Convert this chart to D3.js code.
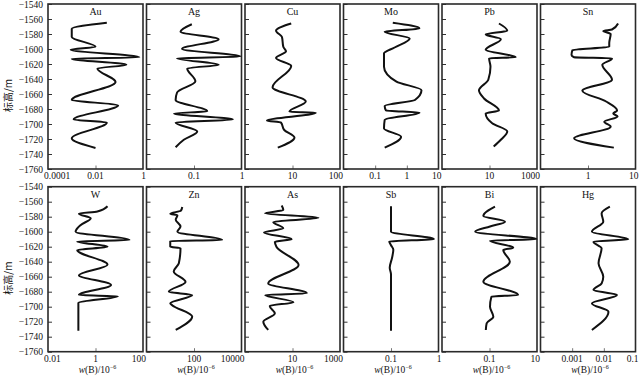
<!DOCTYPE html>
<html><head><meta charset="utf-8">
<script src="https://cdn.jsdelivr.net/npm/d3@7"></script>
<style>body{margin:0;background:#fff} svg{display:block}</style>
</head><body><svg id="c" width="643" height="382"></svg>
<script>
const elements = ["Au","Ag","Cu","Mo","Pb","Sn","W","Zn","As","Sb","Bi","Hg"];

// [elevation m, w(B)/10^-6]
const auData = [[-1565,0.03],[-1573,0.001],[-1584,0.001],[-1597,0.01],[-1601,0.0009],[-1611,0.7],[-1613,0.001],[-1621,0.2],[-1626,0.012],[-1644,0.07],[-1668,0.001],[-1675,0.09],[-1694,0.0012],[-1698,0.03],[-1719,0.001],[-1732,0.01]];
const agData = [[-1567,0.09],[-1577,0.052],[-1587,0.33],[-1600,0.056],[-1610,0.95],[-1612.5,0.044],[-1621,0.33],[-1626,0.072],[-1643,0.107],[-1658,0.044],[-1668,0.041],[-1683,0.19],[-1686,0.038],[-1694,0.66],[-1698,0.041],[-1710,0.117],[-1721,0.061],[-1731,0.041]];
const cuData = [[-1566,9.4],[-1575.5,4.5],[-1584,6.0],[-1597,6.4],[-1603,7.3],[-1612,4.5],[-1622.5,9.4],[-1651,3.8],[-1670,19],[-1683.5,8.6],[-1685,31],[-1695.5,2.9],[-1698,5.7],[-1708,6.7],[-1718,11],[-1731.5,4.9]];
const moData = [[-1565,0.36],[-1572.5,2.5],[-1577,0.2],[-1586,1.23],[-1598,0.41],[-1606,0.19],[-1623.5,0.19],[-1643.5,0.47],[-1655,2.9],[-1668,1.8],[-1676,0.2],[-1682,0.22],[-1685,2.5],[-1694.5,0.2],[-1706,0.19],[-1717,0.66],[-1731.5,0.2]];
const pbData = [[-1566,25],[-1575.5,56],[-1580.5,6.9],[-1587,30],[-1601,6.9],[-1611,126],[-1612.5,9.6],[-1623.5,11],[-1641,8.9],[-1655,3.6],[-1666,5.9],[-1682,25],[-1686,6.9],[-1699,13],[-1710,56],[-1721,30],[-1730,15]];
const snData = [[-1566,4.3],[-1574,3.2],[-1576,2.1],[-1580,3.0],[-1592,2.8],[-1597,2.8],[-1601.5,0.47],[-1608,0.45],[-1611,0.51],[-1612.5,3.2],[-1621,2.0],[-1641,3.2],[-1655.5,0.76],[-1670,2.4],[-1682,4.1],[-1686,3.4],[-1690,4.2],[-1697,2.2],[-1703.5,3.0],[-1719,0.51],[-1731.5,3.5]];
const wData = [[-1566,3.2],[-1573,1.2],[-1576,0.2],[-1582,0.63],[-1591,0.24],[-1600,0.145],[-1611,27],[-1613,0.17],[-1620,3.2],[-1624.5,0.17],[-1644,3.2],[-1658,0.2],[-1671,4.5],[-1684.5,0.2],[-1686,8.7],[-1695,0.19],[-1732,0.19]];
const znData = [[-1567,32],[-1572,28],[-1576,10],[-1578,20],[-1584,17],[-1593,27],[-1600,20],[-1611,1540],[-1612.5,10],[-1620,10],[-1622,27],[-1642,23],[-1653,14],[-1667,44],[-1680,8.7],[-1684.5,84],[-1695.5,10],[-1698,12],[-1713,84],[-1731,17]];
const asData = [[-1565,3.5],[-1571,4.1],[-1575.5,0.7],[-1581.5,123],[-1587,1.55],[-1595.5,4.1],[-1601,0.63],[-1610,9.2],[-1613.5,1.8],[-1620,2.1],[-1644.5,18],[-1669,0.95],[-1682,40],[-1684.5,0.7],[-1694,11],[-1699,1.1],[-1709,1.8],[-1720,0.59],[-1731,0.95]];
const sbData = [[-1566,0.1],[-1600,0.1],[-1610,0.8],[-1613,0.092],[-1618,0.1],[-1624,0.112],[-1635,0.105],[-1648,0.094],[-1657,0.1],[-1732,0.1]];
const biData = [[-1566.7,0.17],[-1579,0.055],[-1586.7,0.45],[-1593,0.105],[-1600,0.025],[-1610,9.5],[-1612,0.105],[-1621.3,1.0],[-1624.4,0.38],[-1640,0.72],[-1666.7,0.055],[-1684.4,1.6],[-1686.7,0.12],[-1700,0.105],[-1713.3,0.145],[-1722.2,0.076],[-1731,0.07]];
const hgData = [[-1566.7,0.0155],[-1575.6,0.0085],[-1586.7,0.0096],[-1600,0.0042],[-1610,0.059],[-1613.3,0.0047],[-1622.2,0.0085],[-1642,0.0068],[-1660,0.0096],[-1669,0.0085],[-1677.8,0.0047],[-1684.4,0.026],[-1695.6,0.0042],[-1706.7,0.014],[-1731,0.0042]];

const series = [auData,agData,cuData,moData,pbData,snData,wData,znData,asData,sbData,biData,hgData];

const xDomains = [[1e-4,1],[0.01,1],[1,100],[0.01,10],[0.1,1000],[0.1,10],[0.01,100],[1,1e4],[0.1,1000],[0.01,1],[0.001,10],[1e-4,0.1]];
const xTickMarks = [[0.01],[0.1],[10],[0.1,1],[10],[1],[1],[100],[10],[0.1],[0.1],[0.001,0.01]];
const xTickLabels = [["0.0001","0.01","1"],["0.1","1"],["10","100"],["0.1","1","10"],["10","1000"],["1","10"],["0.01","1","100"],["100","10000"],["10","1000"],["0.1","1"],["0.1","10"],["0.001","0.01","0.1"]];
const yTicks = d3.range(-1540, -1761, -20);
const yTitle = "标高/m";

const svg = d3.select("#c");
const serif = "'Liberation Serif','Times New Roman',serif";
const left0 = 48, pitch = 98.5, pw = 95, ph = 165;
const tops = [4, 186.7];

elements.forEach((el, i) => {
  const row = Math.floor(i / 6), col = i % 6;
  const L = left0 + col * pitch, T = tops[row], R = L + pw, B = T + ph;
  const x = d3.scaleLog().domain(xDomains[i]).range([L, R]);
  const y = d3.scaleLinear().domain([-1540, -1760]).range([T, B]);
  const g = svg.append("g");

  // y ticks (inward)
  const ya = d3.axisLeft(y).tickValues(yTicks).tickSizeInner(-4).tickSizeOuter(0).tickPadding(5)
    .tickFormat(col === 0 ? d3.format("d") : "");
  const yg = g.append("g").attr("transform", `translate(${L},0)`).call(ya);
  yg.select(".domain").remove();
  yg.selectAll("line").attr("stroke", "#333");
  yg.selectAll("text").attr("font-family", serif).attr("font-size", 9.5).attr("fill", "#111");

  // x ticks (inward)
  const xa = d3.axisBottom(x).tickValues(xTickMarks[i]).tickSizeInner(-3.5).tickSizeOuter(0).tickFormat("");
  const xg = g.append("g").attr("transform", `translate(0,${B})`).call(xa);
  xg.select(".domain").remove();
  xg.selectAll("line").attr("stroke", "#777");

  // x labels
  const labs = xTickLabels[i];
  labs.forEach((t, k) => {
    const v = +t;
    let px = x(v), anchor = "middle";
    if (Math.abs(px - R) < 0.5) { px = R + 3; anchor = "end"; }
    else if (Math.abs(px - L) < 0.5) { px = L - 4; anchor = "start"; }
    g.append("text").attr("x", px).attr("y", B + 10).attr("text-anchor", anchor)
      .attr("font-family", serif).attr("font-size", 9.5).attr("fill", "#111").text(t);
  });

  // frame
  g.append("rect").attr("x", L).attr("y", T).attr("width", pw).attr("height", ph)
    .attr("fill", "none").attr("stroke", "#2a2a2a").attr("stroke-width", 1.6);

  // title
  g.append("text").attr("x", (L + R) / 2).attr("y", T + 11).attr("text-anchor", "middle")
    .attr("font-family", serif).attr("font-size", 10).attr("fill", "#111").text(el);

  // profile line
  const line = d3.line().x(d => x(d[1])).y(d => y(d[0])).curve(d3.curveMonotoneY);
  g.append("path").datum(series[i]).attr("d", line)
    .attr("fill", "none").attr("stroke", "#111").attr("stroke-width", 2).attr("stroke-linejoin", "round");

  // x title for bottom row
  if (row === 1) {
    const tx = g.append("text").attr("x", (L + R) / 2 + 2).attr("y", 373).attr("text-anchor", "middle")
      .attr("font-family", serif).attr("font-size", 9.5).attr("fill", "#111");
    tx.append("tspan").attr("font-style", "italic").text("w");
    tx.append("tspan").text("(B)/10");
    tx.append("tspan").attr("font-size", 6).attr("dy", -4).text("−6");
  }
  // y title
  if (col === 0) {
    svg.append("text").attr("transform", `translate(12,${(T + B) / 2 + 9}) rotate(-90)`)
      .attr("text-anchor", "middle").attr("font-family", "'Noto Sans CJK SC',sans-serif")
      .attr("font-size", 10).attr("fill", "#111").text(yTitle);
  }
});
</script></body></html>
